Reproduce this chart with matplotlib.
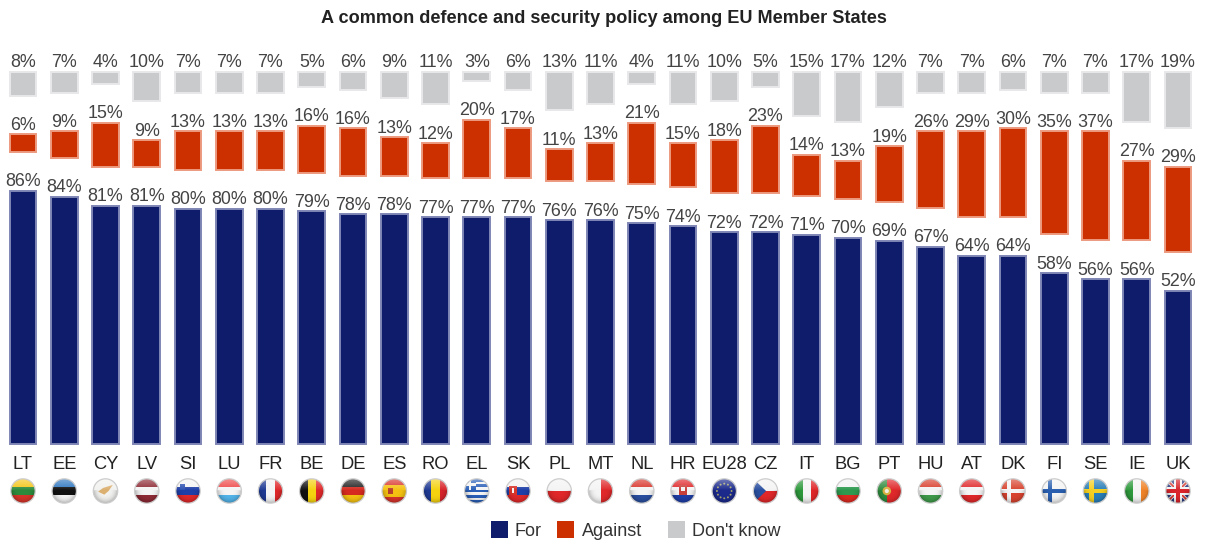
import matplotlib
matplotlib.use('Agg')
import matplotlib.pyplot as plt
import numpy as np
from matplotlib.patches import Circle, Rectangle, Polygon

plt.rcParams['font.family'] = ['Liberation Sans', 'DejaVu Sans']

countries = ['LT', 'EE', 'CY', 'LV', 'SI', 'LU', 'FR', 'BE', 'DE', 'ES', 'RO', 'EL', 'SK', 'PL', 'MT',
             'NL', 'HR', 'EU28', 'CZ', 'IT', 'BG', 'PT', 'HU', 'AT', 'DK', 'FI', 'SE', 'IE', 'UK']
for_vals = [86, 84, 81, 81, 80, 80, 80, 79, 78, 78, 77, 77, 77, 76, 76,
            75, 74, 72, 72, 71, 70, 69, 67, 64, 64, 58, 56, 56, 52]
against_vals = [6, 9, 15, 9, 13, 13, 13, 16, 16, 13, 12, 20, 17, 11, 13,
                21, 15, 18, 23, 14, 13, 19, 26, 29, 30, 35, 37, 27, 29]
dk_vals = [8, 7, 4, 10, 7, 7, 7, 5, 6, 9, 11, 3, 6, 13, 11,
           4, 11, 10, 5, 15, 17, 12, 7, 7, 6, 7, 7, 17, 19]

NAVY = '#0f1c6c'
RED = '#cc3000'
GREY = '#c8cacc'

W, H = 1212, 542
STEP = 41.25      # pixels between bars
PX_PER_PCT = 2.94
GAP = 38.85 / PX_PER_PCT   # blank space between the three segments
BASE_Y = 443.7

# flag specs: horizontal / vertical stripes, everything else is handled in draw_flag
h_stripes = {
    'LT': ['#f5c518', '#2e8b3d', '#d8342a'],
    'EE': ['#2f78c0', '#111111', '#f4f4f4'],
    'LV': ['#8e2a35', '#f4f4f4', '#8e2a35'],
    'SI': ['#f4f4f4', '#1f3fa8', '#e0282a'],
    'LU': ['#ef4a4a', '#f4f4f4', '#52b4ea'],
    'DE': ['#222222', '#d62a20', '#f5c211'],
    'SK': ['#f4f4f4', '#1f3fa8', '#e0282a'],
    'PL': ['#f4f4f4', '#e0282a'],
    'NL': ['#d8342a', '#f4f4f4', '#2a4fa0'],
    'HR': ['#e0282a', '#f4f4f4', '#1f3fa8'],
    'BG': ['#f4f4f4', '#2e9a50', '#dd2a20'],
    'HU': ['#d8402f', '#f4f4f4', '#3f9a4a'],
    'AT': ['#e0282a', '#f4f4f4', '#e0282a'],
}
v_stripes = {
    'FR': ['#1f3a93', '#f4f4f4', '#e0282a'],
    'BE': ['#111111', '#f5d20f', '#e0282a'],
    'RO': ['#1f3a93', '#f5d20f', '#d8242a'],
    'MT': ['#f4f4f4', '#e0282a'],
    'IT': ['#2e9a3c', '#f4f4f4', '#e0282a'],
    'IE': ['#2e9a3c', '#f4f4f4', '#f0842a'],
}


def draw_flag(ax, code, cx, cy, r):
    clip = Circle((cx, cy), r, transform=ax.transData)
    parts = []

    def rect(x0, y0, x1, y1, color):
        parts.append(Rectangle((cx + x0 * r, cy + y0 * r), (x1 - x0) * r, (y1 - y0) * r,
                               facecolor=color, edgecolor='none'))

    def poly(points, color):
        parts.append(Polygon([(cx + x * r, cy + y * r) for x, y in points],
                             facecolor=color, edgecolor='none'))

    if code in h_stripes:
        colors = h_stripes[code]
        for k, c in enumerate(colors):
            rect(-1, -1 + 2 * k / len(colors), 1, -1 + 2 * (k + 1) / len(colors), c)
        # small crests on the striped flags that carry one
        if code == 'SI':
            rect(-0.62, -0.55, -0.22, -0.1, '#2a4fb0')
        elif code == 'SK':
            rect(-0.72, -0.4, -0.12, 0.35, '#d8342a')
            rect(-0.5, -0.28, -0.34, 0.2, '#f4f4f4')
        elif code == 'HR':
            rect(-0.3, -0.5, 0.3, 0.3, '#c8403a')
            rect(-0.15, -0.3, 0.15, 0.0, '#f4f4f4')
    elif code in v_stripes:
        colors = v_stripes[code]
        for k, c in enumerate(colors):
            rect(-1 + 2 * k / len(colors), -1, -1 + 2 * (k + 1) / len(colors), 1, c)
    elif code == 'CY':
        rect(-1, -1, 1, 1, '#f2f2f0')
        poly([(-0.6, 0.05), (-0.2, -0.25), (0.6, -0.5), (0.25, 0.0), (-0.1, 0.3)], '#dcb070')
    elif code == 'ES':
        rect(-1, -1, 1, 1, '#d8342a')
        rect(-1, -0.5, 1, 0.5, '#f5c211')
        rect(-0.5, -0.25, -0.1, 0.25, '#b8402a')
    elif code == 'EL':
        for k in range(9):
            rect(-1, -1 + 2 * k / 9, 1, -1 + 2 * (k + 1) / 9, '#2a5fb8' if k % 2 == 0 else '#f4f4f4')
        rect(-1, -1, -0.1, -0.1, '#2a5fb8')
        rect(-1, -0.65, -0.1, -0.45, '#f4f4f4')
        rect(-0.65, -1, -0.45, -0.1, '#f4f4f4')
    elif code == 'EU28':
        rect(-1, -1, 1, 1, '#1c2a8c')
        for a in np.arange(12) * np.pi / 6:
            parts.append(Circle((cx + 0.6 * r * np.cos(a), cy + 0.6 * r * np.sin(a)), 0.08 * r,
                                facecolor='#a8a870', edgecolor='none'))
    elif code == 'CZ':
        rect(-1, -1, 1, 0, '#f4f4f4')
        rect(-1, 0, 1, 1, '#e0282a')
        poly([(-1, -1), (0.05, 0), (-1, 1)], '#2a4fa0')
    elif code == 'PT':
        rect(-1, -1, 1, 1, '#e0282a')
        rect(-1, -1, -0.2, 1, '#2e8b3d')
        parts.append(Circle((cx - 0.2 * r, cy), 0.35 * r, facecolor='#d8b040', edgecolor='none'))
        parts.append(Circle((cx - 0.2 * r, cy), 0.17 * r, facecolor='#f0eee0', edgecolor='none'))
    elif code in ('DK', 'FI', 'SE'):
        back, cross = {'DK': ('#d8432f', '#f4f4f4'),
                       'FI': ('#f4f4f4', '#2a5fb0'),
                       'SE': ('#2a7fb8', '#f5d020')}[code]
        rect(-1, -1, 1, 1, back)
        rect(-0.5, -1, -0.15, 1, cross)
        rect(-1, -0.18, 1, 0.18, cross)
    elif code == 'UK':
        rect(-1, -1, 1, 1, '#2a3a80')
        for sign in (1, -1):
            poly([(-1, -0.8 * sign), (-0.8, -1 * sign), (1, 0.8 * sign), (0.8, 1 * sign)], '#f0e8e8')
            poly([(-1, -0.9 * sign), (-0.9, -1 * sign), (1, 0.9 * sign), (0.9, 1 * sign)], '#d8342a')
        rect(-0.3, -1, 0.3, 1, '#f4f4f4')
        rect(-1, -0.3, 1, 0.3, '#f4f4f4')
        rect(-0.17, -1, 0.17, 1, '#d8242a')
        rect(-1, -0.17, 1, 0.17, '#d8242a')

    for p in parts:
        ax.add_patch(p)
        p.set_clip_path(clip)

    # glossy shading: light at the top, darker around the lower rim
    n = 48
    yy, xx = np.mgrid[-1:1:n * 1j, -1:1:n * 1j]
    shade = np.zeros((n, n, 4))
    shade[..., :3] = np.where((yy < -0.05)[..., None], 1.0, 0.0)
    shade[..., 3] = np.where(yy < -0.05, 0.40 * (-yy), 0.25 * np.clip(xx**2 + yy**2, 0, 1)**2)
    im = ax.imshow(shade, extent=(cx - r, cx + r, cy + r, cy - r),
                   interpolation='bilinear', zorder=3, aspect='auto')
    im.set_clip_path(clip)
    ax.add_patch(Circle((cx, cy), r, facecolor='none', edgecolor='#cccccc', linewidth=0.9, zorder=4))


fig = plt.figure(figsize=(W / 100, H / 100), dpi=100, facecolor='white')

# y axis in percentage points, x axis in bar index, scaled so one axes spans the whole canvas
x0 = 23 / STEP
y_bottom = -(H - BASE_Y) / PX_PER_PCT
y_top = BASE_Y / PX_PER_PCT
ax = fig.add_axes([0, 0, 1, 1])
ax.set_xlim(-x0, W / STEP - x0)
ax.set_ylim(y_bottom, y_top)
ax.axis('off')

x = np.arange(len(countries))
for_arr = np.array(for_vals)
against_arr = np.array(against_vals)
dk_arr = np.array(dk_vals)
against_base = for_arr + GAP
dk_base = against_base + against_arr + GAP

bar_w = 26.7 / STEP
ax.bar(x, for_arr, bar_w, color=NAVY, edgecolor='#7f86b5', linewidth=1.4)
ax.bar(x, against_arr, bar_w, bottom=against_base, color=RED, edgecolor='#eb9a80', linewidth=1.4)
ax.bar(x, dk_arr, bar_w, bottom=dk_base, color=GREY, edgecolor='#e8e8ea', linewidth=1.4)

LABEL_SIZE = 12.9
LABEL_PAD = 4.5 / PX_PER_PCT
for i in x:
    ax.text(i, for_arr[i] + LABEL_PAD, f'{for_vals[i]}%', ha='center', va='baseline',
            fontsize=LABEL_SIZE, color='#444444')
    ax.text(i, against_base[i] + against_arr[i] + LABEL_PAD, f'{against_vals[i]}%', ha='center', va='baseline',
            fontsize=LABEL_SIZE, color='#444444')
    ax.text(i, dk_base[i] + dk_arr[i] + LABEL_PAD, f'{dk_vals[i]}%', ha='center', va='baseline',
            fontsize=LABEL_SIZE, color='#444444')

# overlay in pixel coordinates for header, flags and legend
px = fig.add_axes([0, 0, 1, 1], facecolor='none')
px.set_xlim(0, W)
px.set_ylim(H, 0)
px.axis('off')

px.text(604, 18.5, 'A common defence and security policy among EU Member States', ha='center', va='center',
        fontsize=13.1, fontweight='bold', color='#222222')

for i, code in enumerate(countries):
    cx = 23 + i * STEP
    px.text(cx, 464.5, code, ha='center', va='center', fontsize=13.2, color='#222222')
    draw_flag(px, code, cx, 491, 12.2)
px.set_xlim(0, W)
px.set_ylim(H, 0)

# legend
legend_items = [('For', NAVY, 491, 515), ('Against', RED, 557, 582), ("Don't know", GREY, 668, 692)]
for label, color, sx, tx in legend_items:
    px.add_patch(Rectangle((sx, 521), 17, 17, facecolor=color, edgecolor='none'))
    px.text(tx, 531, label, ha='left', va='center', fontsize=13, color='#333333')

fig.savefig('out.png', dpi=100)
